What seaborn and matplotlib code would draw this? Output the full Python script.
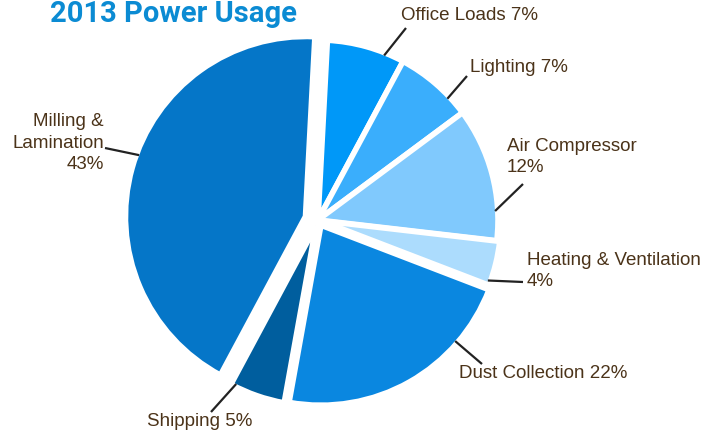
import matplotlib
matplotlib.use("Agg")
import matplotlib.pyplot as plt
import seaborn as sns
import numpy as np

# ---- data ----
categories = ["Office Loads", "Lighting", "Air Compressor", "Heating & Ventilation",
              "Dust Collection", "Shipping", "Milling & Lamination"]
values = [7, 7, 12, 4, 22, 5, 43]
label_texts = ["Office Loads 7%", "Lighting 7%", "Air Compressor\n12%",
               "Heating & Ventilation\n4%", "Dust Collection 22%", "Shipping 5%",
               "Milling &\nLamination\n43%"]
title = "2013 Power Usage"

# ---- styles / layout ----
colors = ["#0098f8", "#3aaefc", "#80c9fd", "#acdcfd", "#0a87e0", "#005e9e", "#0576c8"]
explode = [0.0, 0.0, 0.0, 3.0, 6.0, 6.0, 13.0]   # offsets in pixels (data units)
# label anchor (pixel x, pixel y), horizontal alignment
label_pos = [(401, 15, "left"), (470, 68, "left"), (507, 157, "left"),
             (527, 271, "left"), (459, 374, "left"), (147, 421, "left"),
             (104, 143, "right")]
# leader line: fraction along wedge span for start, end point in pixels
leader_frac = [0.25, 0.26, 0.22, 0.09, 0.75, 0.08, 0.47]
leader_end = [(406, 28), (467, 76), (523, 184), (523, 282), (482, 364), (211, 412), (105, 148)]

sns.set_theme(style="white")
plt.rcParams["font.family"] = ["Liberation Sans", "DejaVu Sans"]

W, H = 722, 438
fig = plt.figure(figsize=(W / 100, H / 100), dpi=100)
ax = fig.add_axes([0, 0, 1, 1])

cx, cy, R = 318, H - 220, 180
wedges, _ = ax.pie(values, colors=colors, startangle=87, counterclock=False,
                   explode=explode, center=(cx, cy), radius=R, frame=True,
                   wedgeprops=dict(edgecolor="white", linewidth=4))
ax.set_xlim(0, W)
ax.set_ylim(0, H)
ax.set_aspect("equal")
ax.axis("off")

text_color = "#4b3319"
for w, txt, (lx, ly, ha), f, (ex, ey) in zip(wedges, label_texts, label_pos, leader_frac, leader_end):
    a = np.deg2rad(w.theta1 + f * (w.theta2 - w.theta1))
    sx = w.center[0] + w.r * 0.985 * np.cos(a)
    sy = w.center[1] + w.r * 0.985 * np.sin(a)
    ax.plot([sx, ex], [sy, H - ey], color="#222222", lw=1.6, solid_capstyle="butt")
    ax.text(lx, H - ly, txt, ha=ha, va="center", fontsize=13.5, color=text_color,
            linespacing=1.35, multialignment=ha)

fig.text(50 / W, 1 - 22 / H, title, ha="left", va="baseline", fontsize=21,
         fontweight="bold", family=["Roboto", "DejaVu Sans"], color="#0b8bd3")

fig.savefig("out.png", dpi=100)
